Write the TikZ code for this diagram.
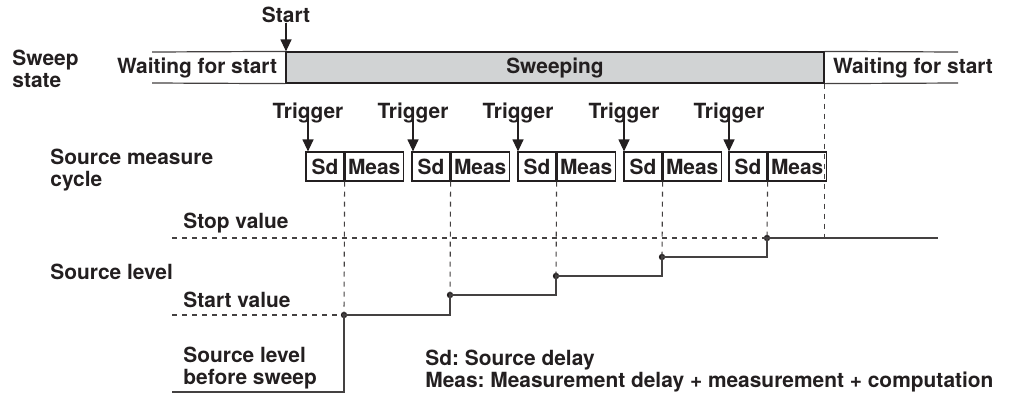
\documentclass[tikz,border=0pt]{standalone}
\usepackage{fontspec}
\setmainfont{TeX Gyre Heros}
\usetikzlibrary{arrows.meta,positioning}
\definecolor{ink}{HTML}{231F20}
\definecolor{barfill}{HTML}{D1D3D4}
\frenchspacing

\begin{document}
\begin{tikzpicture}[x=0.5pt, y=-0.5pt, font=\fontsize{10.45}{11}\selectfont\bfseries, text=ink,
  txt/.style={inner sep=0pt, align=left},
  cell/.style={draw=ink, line width=0.6pt, minimum height=14.5pt, inner sep=0pt},
  wire/.style={draw=ink!85, line width=0.6pt},
  guide/.style={draw=ink!85, line width=0.55pt, dash pattern=on 2.5pt off 2.5pt},
  arr/.style={draw=ink, line width=0.6pt, -{Triangle[length=6pt, width=5.5pt]}},
  lvldot/.style={circle, fill=ink, inner sep=0pt, minimum size=3.2pt}]

  \useasboundingbox (0,0) rectangle (1015,398);

  % Row labels
  \node[txt, anchor=west] (Lsweep) at (12,69) {Sweep\\state};
  \node[txt, anchor=west] (Lcycle) at (50,170) {Source measure\\cycle};
  \node[txt, anchor=west] (Llevel) at (50,272) {Source level};

  % Sweep state bar
  \node[cell, fill=barfill, minimum width=269pt, minimum height=15.5pt] (Sw) at (555,67.5) {Sweeping};
  \node[txt, left=4pt of Sw] (W1) {Waiting for start};
  \node[txt, right=4pt of Sw] (W2) {Waiting for start};
  \coordinate (barTL) at (152,52);
  \coordinate (barBL) at (152,83);
  \coordinate (barTR) at (958,52);
  \coordinate (barBR) at (958,83);
  \draw[wire] (barTL) -- (Sw.north west);
  \draw[wire] (barBL) -- (Sw.south west);
  \draw[wire] (Sw.north east) -- (barTR);
  \draw[wire] (Sw.south east) -- (barBR);

  \node[txt] (St) at (286,15) {Start};
  \draw[arr] (St.base) -- (St.base |- Sw.north);

  % Source measure cycles
  \node[cell, minimum width=19pt] (Sd1) at (325,166.5) {Sd};
  \node[cell, minimum width=29pt, right=0pt of Sd1] (M1) {Meas};
  \node[cell, minimum width=19pt] (Sd2) at (431,166.5) {Sd};
  \node[cell, minimum width=29pt, right=0pt of Sd2] (M2) {Meas};
  \node[cell, minimum width=19pt] (Sd3) at (537,166.5) {Sd};
  \node[cell, minimum width=29pt, right=0pt of Sd3] (M3) {Meas};
  \node[cell, minimum width=19pt] (Sd4) at (643,166.5) {Sd};
  \node[cell, minimum width=29pt, right=0pt of Sd4] (M4) {Meas};
  \node[cell, minimum width=19pt] (Sd5) at (748,166.5) {Sd};
  \node[cell, minimum width=29pt, right=0pt of Sd5] (M5) {Meas};

  % Triggers
  \node[txt] (T1) at (308,113) {Trigger};
  \node[txt] (T2) at (413,113) {Trigger};
  \node[txt] (T3) at (518,113) {Trigger};
  \node[txt] (T4) at (624,113) {Trigger};
  \node[txt] (T5) at (729,113) {Trigger};
  \draw[arr] (T1.base) -- (T1.base |- Sd1.north);
  \draw[arr] (T2.base) -- (T2.base |- Sd2.north);
  \draw[arr] (T3.base) -- (T3.base |- Sd3.north);
  \draw[arr] (T4.base) -- (T4.base |- Sd4.north);
  \draw[arr] (T5.base) -- (T5.base |- Sd5.north);

  % Source level steps
  \node[lvldot] (D1) at (344,315) {};
  \node[lvldot] (D2) at (450,295) {};
  \node[lvldot] (D3) at (556,276) {};
  \node[lvldot] (D4) at (662,257) {};
  \node[lvldot] (D5) at (767,238) {};
  \coordinate (base0) at (172,392);
  \coordinate (startL) at (172,315);
  \coordinate (stopL) at (172,238);
  \coordinate (stopR) at (938,238);

  \draw[guide] (stopL) -- (D5.center);
  \draw[guide] (startL) -- (D1.center);
  \draw[guide] (Sd1.south east) -- (D1.center);
  \draw[guide] (Sd2.south east) -- (D2.center);
  \draw[guide] (Sd3.south east) -- (D3.center);
  \draw[guide] (Sd4.south east) -- (D4.center);
  \draw[guide] (Sd5.south east) -- (D5.center);
  \draw[guide] (Sw.south east) -- (Sw.south east |- D5.center);

  \draw[wire] (base0) -| (D1.center) -| (D2.center) -| (D3.center) -| (D4.center) -| (D5.center) -- (stopR);

  % Level labels
  \node[txt, anchor=west] (Lstop) at (183,223) {Stop value};
  \node[txt, anchor=west] (Lstart) at (183,300) {Start value};
  \node[txt, anchor=west] (Lbefore) at (183,368) {Source level\\before sweep};

  % Legend
  \node[txt, anchor=west] (Key) at (425,371) {Sd: Source delay\\Meas: Measurement delay + measurement + computation};

\end{tikzpicture}
\end{document}
